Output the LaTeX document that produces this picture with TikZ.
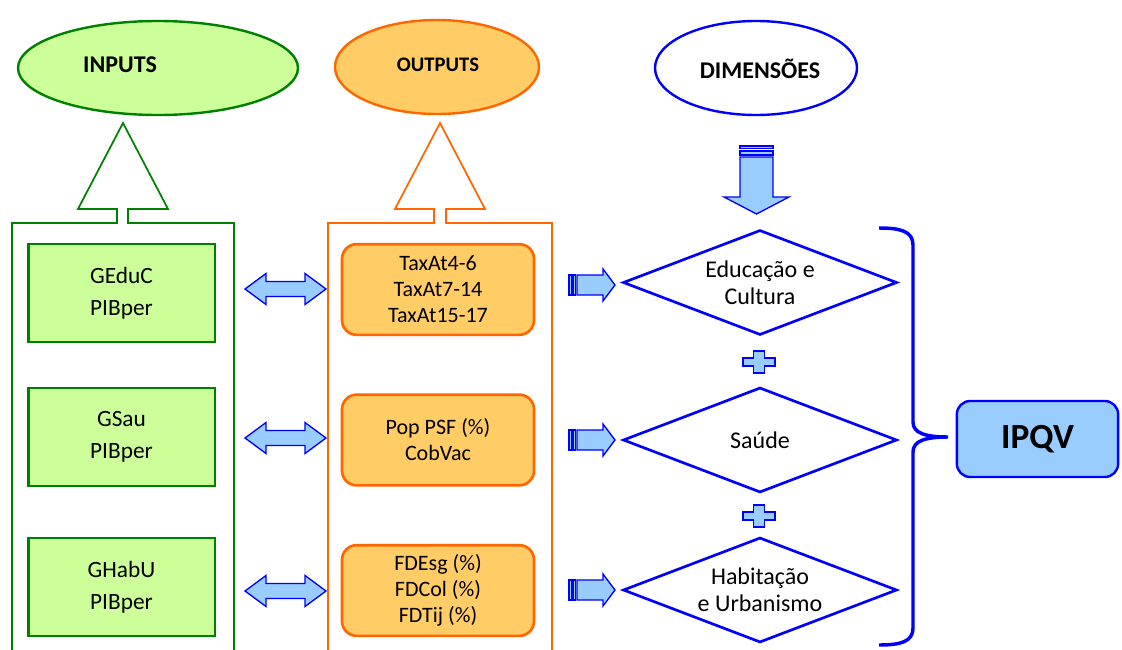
\documentclass[tikz,border=0pt]{standalone}
\usepackage{fontspec}
\setmainfont{Carlito}
\usetikzlibrary{shapes.geometric,calc}
\definecolor{gfill}{RGB}{204,255,153}
\definecolor{gline}{RGB}{0,128,0}
\definecolor{ofill}{RGB}{255,204,102}
\definecolor{oline}{RGB}{255,102,0}
\definecolor{bfill}{RGB}{153,204,255}
\definecolor{bline}{RGB}{0,0,255}
\begin{document}
\begin{tikzpicture}[x=0.75pt,y=-0.75pt,
  head/.style={ellipse, inner sep=0pt, line width=1.8pt, minimum height=70.5pt},
  headtxt/.style={inner sep=0pt, font=\bfseries\fontsize{18}{21}\selectfont},
  inbox/.style={rectangle, draw=gline, fill=gfill, line width=2pt, minimum width=140pt,
    minimum height=73.5pt, align=center, font=\fontsize{17.5}{24}\selectfont},
  outbox/.style={rectangle, rounded corners=11pt, draw=oline, fill=ofill, line width=2pt,
    minimum width=144pt, minimum height=68pt, align=center, font=\fontsize{16.5}{19.5}\selectfont},
  dim/.style={diamond, shape aspect=2.61, draw=bline, line width=2pt, inner sep=0pt, minimum width=205.5pt,
    minimum height=78.75pt, align=center, font=\fontsize{18}{20.5}\selectfont},
  blk/.style={draw=bline, fill=bfill, line width=1pt, line join=miter},
  frameg/.style={draw=gline, line width=1.3pt},
  frameo/.style={draw=oline, line width=1.3pt},
  dblarrow/.pic={\path[blk] (-40.5,0) -- (-19.5,-15.5) -- (-19.5,-7.5) -- (19.5,-7.5) -- (19.5,-15.5)
      -- (40.5,0) -- (19.5,15.5) -- (19.5,7.5) -- (-19.5,7.5) -- (-19.5,15.5) -- cycle;},
  rarrow/.pic={\path[blk] (0,-10) rectangle (2.5,10);
      \path[blk] (4,-10) rectangle (6.5,10);
      \path[blk] (8,-10) -- (34,-10) -- (34,-16) -- (46,0) -- (34,16) -- (34,10) -- (8,10) -- cycle;},
  plussign/.pic={\path[blk] (-5.5,-11) -- (5.5,-11) -- (5.5,-4) -- (16,-4) -- (16,4) -- (5.5,4)
      -- (5.5,11) -- (-5.5,11) -- (-5.5,4) -- (-16,4) -- (-16,-4) -- (-5.5,-4) -- cycle;}
]
\useasboundingbox (0,0) rectangle (1122,650);

% headings
\node[head, draw=gline, fill=gfill, minimum width=210pt] (inp) at (158,68) {};
\node[headtxt] (inpt) at (120,65) {INPUTS};
\node[head, draw=oline, fill=ofill, minimum width=153pt] (outp) at (437,67) {};
\node[headtxt, font=\bfseries\fontsize{15.5}{19}\selectfont] (outpt) at (438,65) {OUTPUTS};
\node[head, draw=bline, fill=white, minimum width=151.5pt] (dimh) at (756,68) {};
\node[headtxt] (dimht) at (760,69) {DIMENSÕES};

% frames with open arrows
\draw[frameg] (12,650) -- (12,223) -- (117,223) -- (117,209) -- (78,209) -- (123,123)
  -- (168,209) -- (128,209) -- (128,223) -- (234,223) -- (234,650);
\draw[frameo] (328,650) -- (328,223) -- (434,223) -- (434,209) -- (395,209) -- (440,123)
  -- (485,209) -- (446,209) -- (446,223) -- (552,223) -- (552,650);

% input boxes
\node[inbox] (g1) at (121.5,293) {GEduC\\PIBper};
\node[inbox] (g2) at (121.5,437) {GSau\\PIBper};
\node[inbox] (g3) at (121.5,587) {GHabU\\PIBper};

% output boxes
\node[outbox] (o1) at (438,289.5) {TaxAt4-6\\TaxAt7-14\\TaxAt15-17};
\node[outbox] (o2) at (438,440) {Pop PSF (\%)\\CobVac};
\node[outbox] (o3) at (438,590.5) {FDEsg (\%)\\FDCol (\%)\\FDTij (\%)};

% double arrows
\pic at (285.5,289) {dblarrow};
\pic at (285.5,438) {dblarrow};
\pic at (285.5,591) {dblarrow};

% small right arrows
\pic at (569,285) {rarrow};
\pic at (569,440) {rarrow};
\pic at (569,590) {rarrow};

% down arrow under DIMENSOES
\path[blk] (740,146) rectangle (773,148.5);
\path[blk] (740,151) rectangle (773,155);
\path[blk] (740,157) -- (773,157) -- (773,197) -- (789,197) -- (756.5,214) -- (724,197) -- (740,197) -- cycle;

% dimensions
\node[dim] (d1) at (760,282.5) {Educação e\\Cultura};
\node[dim] (d2) at (760,440) {Saúde};
\node[dim] (d3) at (760,590) {Habitação\\e Urbanismo};

% plus signs
\pic at (759,362) {plussign};
\pic at (759,516) {plussign};

% brace
\draw[bline, line width=2.6pt] (879,228) .. controls (900,228) and (913,231) .. (913,245)
  -- (913,422) .. controls (913,433) and (925,437) .. (948,437)
  .. controls (925,437) and (913,441) .. (913,452)
  -- (913,628) .. controls (913,642) and (900,645) .. (879,645);

% result
\node[rectangle, rounded corners=10pt, draw=bline, fill=bfill, line width=1.8pt,
  minimum width=121pt, minimum height=57pt, font=\bfseries\fontsize{26.5}{30}\selectfont]
  (ipqv) at (1037.5,439) {IPQV};
\end{tikzpicture}
\end{document}
